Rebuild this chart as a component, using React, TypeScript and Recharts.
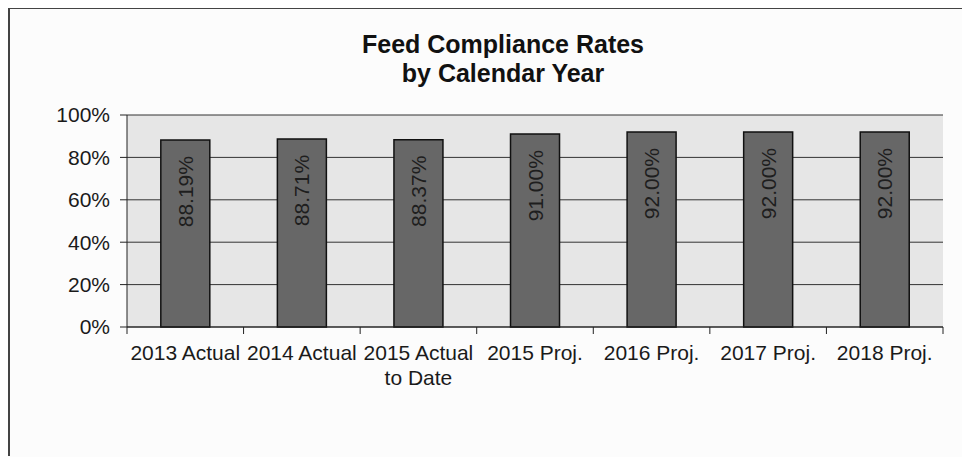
import React from "react";
import { BarChart, Bar, XAxis, YAxis, CartesianGrid, LabelList } from "recharts";

const categories = [
  "2013 Actual",
  "2014 Actual",
  "2015 Actual\nto Date",
  "2015 Proj.",
  "2016 Proj.",
  "2017 Proj.",
  "2018 Proj.",
];
const rates = [88.19, 88.71, 88.37, 91.0, 92.0, 92.0, 92.0];
const yTicks = [0, 20, 40, 60, 80, 100];

const data = categories.map((name, i) => ({ name, rate: rates[i] }));

const FONT = "'Liberation Sans', Arial, sans-serif";

function XTick(props: any) {
  const { x, y, payload, index, width } = props;
  const band = width / categories.length;
  const lines = String(payload.value).split("\n");
  return (
    <g>
      <line x1={x - band / 2} x2={x - band / 2} y1={y} y2={y + 7} stroke="#222" />
      {index === categories.length - 1 && (
        <line x1={x + band / 2} x2={x + band / 2} y1={y} y2={y + 7} stroke="#222" />
      )}
      {lines.map((l, i) => (
        <text key={i} x={x} y={y + 33 + i * 25} textAnchor="middle" fontSize={21} fill="#1a1a1a">
          {l}
        </text>
      ))}
    </g>
  );
}

function BarLabel(props: any) {
  const { x, y, width, value } = props;
  const cx = x + width / 2;
  const cy = y + 16;
  return (
    <text
      x={cx}
      y={cy}
      transform={`rotate(-90, ${cx}, ${cy})`}
      textAnchor="end"
      dominantBaseline="central"
      fontSize={21}
      fill="#1e1e1e"
    >
      {`${Number(value).toFixed(2)}%`}
    </text>
  );
}

export default function App() {
  return (
    <div style={{ position: "relative", width: 962, height: 449, background: "#fcfcfc", fontFamily: FONT }}>
      <div
        style={{
          position: "absolute",
          left: 0,
          top: -1,
          width: 962,
          height: 449,
          borderTop: "2px solid #444",
          borderLeft: "2px solid #444",
          boxSizing: "border-box",
          pointerEvents: "none",
        }}
      />
      <div
        style={{
          position: "absolute",
          left: 0,
          top: 22,
          width: 990,
          textAlign: "center",
          fontSize: 25,
          lineHeight: "29px",
          fontWeight: "bold",
          color: "#111",
        }}
      >
        Feed Compliance Rates
        <br />
        by Calendar Year
      </div>
      <BarChart
        width={962}
        height={449}
        data={data}
        margin={{ top: 107, right: 27, left: 0, bottom: 70 }}
        barCategoryGap="29%"
        style={{ position: "absolute", left: 0, top: 0 }}
      >
        <CartesianGrid vertical={false} stroke="#333" fill="#e6e6e6" fillOpacity={1} />
        <XAxis
          dataKey="name"
          height={60}
          tickLine={false}
          tickSize={0}
          tickMargin={0}
          axisLine={{ stroke: "#222" }}
          interval={0}
          tick={<XTick />}
        />
        <YAxis
          domain={[0, 100]}
          ticks={yTicks}
          width={119}
          tickFormatter={(v: number) => `${v}%`}
          axisLine={{ stroke: "#222" }}
          tickLine={{ stroke: "#222" }}
          tickSize={7}
          tickMargin={10}
          tick={{ fontSize: 21, fill: "#1a1a1a" }}
        />
        <YAxis
          yAxisId="r"
          orientation="right"
          domain={[0, 100]}
          width={0}
          tick={false}
          tickLine={false}
          axisLine={{ stroke: "#444" }}
        />
        <Bar dataKey="rate" fill="#676767" stroke="#111" strokeWidth={1.5} isAnimationActive={false}>
          <LabelList dataKey="rate" content={<BarLabel />} />
        </Bar>
      </BarChart>
    </div>
  );
}
